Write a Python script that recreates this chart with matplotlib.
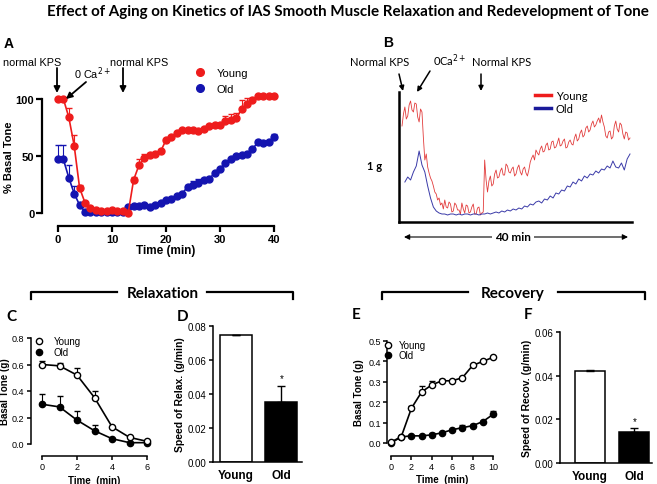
import matplotlib
matplotlib.use('agg')
import matplotlib.pyplot as plt
from matplotlib.lines import Line2D
import numpy as np

plt.rcParams['font.family'] = ['Liberation Sans', 'DejaVu Sans']

W, H = 657, 485
RED = '#ee1c1c'
BLUE = '#1414b0'

# ---- panel A: % basal tone, every minute 0..40
t_a = list(range(41))
young_a = [100, 100, 84, 59, 22, 9, 4, 3, 2, 2, 3, 2, 2, 0, 29, 42, 48, 51, 52, 54, 64,
           67, 70, 73, 73, 73, 72, 74, 76, 77, 77, 81, 82, 83, 91, 96, 99, 103, 103, 103, 103]
young_a_err = [0, 0, 8, 9, 3, 1, 0, 0, 0, 0, 0, 0, 0, 0, 3, 5, 4, 2, 0, 0, 0,
               0, 0, 1, 1, 1, 0, 0, 0, 0, 0, 4, 5, 5, 8, 5, 2, 0, 0, 0, 0]
old_a = [47, 47, 31, 17, 7, 1, 1, 1, 1, 1, 1, 1, 1, 5, 6, 6, 7, 5, 7, 9, 11,
         12, 15, 17, 23, 25, 26, 29, 30, 35, 39, 44, 47, 50, 51, 52, 56, 62, 61, 62, 67]
old_a_err = [13, 13, 11, 7, 2, 0, 0, 0, 0, 0, 0, 0, 0, 0, 0, 0, 0, 0, 0, 0, 0,
             0, 0, 0, 2, 3, 4, 2, 0, 0, 0, 0, 0, 0, 0, 0, 0, 2, 0, 0, 2]

# ---- panel B: raw tension traces (arbitrary units)
# young sampled every 0.25 min, one row per minute
t_b_young = np.arange(0, 40.1, 0.25)
trace_young = [96, 108, 115, 103, 106, 117, 121, 112, 110, 119, 118, 105,
               100, 113, 110, 84, 62, 68, 55, 49, 44, 41, 36, 30,
               28, 22, 24, 17, 19, 13, 22, 15, 14, 20, 18, 10,
               11, 19, 17, 12, 12, 8, 19, 13, 9, 17, 16, 9,
               10, 15, 18, 8, 8, 14, 15, 7, 9, 10, 62, 42,
               30, 41, 46, 36, 38, 48, 52, 44, 45, 51, 54, 47,
               47, 58, 56, 50, 49, 53, 55, 46, 48, 54, 57, 50,
               47, 53, 55, 49, 46, 52, 60, 64, 67, 62, 72, 69,
               67, 73, 76, 70, 71, 77, 79, 72, 73, 80, 81, 74,
               75, 79, 84, 76, 77, 81, 83, 74, 75, 80, 82, 78,
               77, 84, 88, 81, 83, 89, 92, 85, 87, 94, 96, 90,
               92, 98, 101, 95, 97, 101, 104, 99, 107, 100, 95, 86,
               84, 90, 91, 83, 85, 96, 101, 93, 90, 99, 97, 88,
               83, 90, 89, 82, 84]
# old sampled every 0.5 min from 0.5 min
t_b_old = np.arange(0.5, 40.25, 0.5)
trace_old = [40, 45, 42, 50, 56, 71, 57, 50, 36, 24, 15, 11, 9, 8,
             8, 7, 8, 8, 7, 8, 7, 8, 8, 7, 8, 8, 7, 8,
             8, 9, 8, 9, 10, 9, 11, 10, 12, 11, 13, 12, 14, 13, 16, 15, 18, 17, 20, 21,
             19, 23, 22, 26, 24, 29, 28, 32, 31, 36, 35, 40, 38, 43, 41, 46, 44, 48, 47,
             51, 49, 53, 52, 56, 54, 61, 55, 54, 59, 52, 63, 68]

# ---- panel C: relaxation
t_c = [0, 1, 2, 3, 4, 5, 6]
young_c = [0.60, 0.59, 0.52, 0.35, 0.13, 0.05, 0.02]
young_c_err = [0.03, 0.02, 0.05, 0.05, 0.0, 0.0, 0.0]
old_c = [0.30, 0.28, 0.18, 0.10, 0.04, 0.01, 0.01]
old_c_err = [0.08, 0.08, 0.07, 0.045, 0.0, 0.0, 0.0]

# ---- panel D / F: speed bars
groups = ['Young', 'Old']
relax_speed = [0.0745, 0.0355]
relax_err = [0.0004, 0.0095]
recov_speed = [0.042, 0.0142]
recov_err = [0.0006, 0.0018]

# ---- panel E: recovery
t_e = list(range(11))
young_e = [0.005, 0.03, 0.17, 0.25, 0.285, 0.305, 0.305, 0.32, 0.38, 0.40, 0.42]
young_e_err = [0, 0, 0.01, 0.03, 0.02, 0.01, 0, 0, 0, 0, 0]
old_e = [0.0, 0.03, 0.035, 0.035, 0.04, 0.05, 0.065, 0.075, 0.085, 0.105, 0.14]
old_e_err = [0, 0, 0, 0, 0.01, 0, 0, 0.015, 0.01, 0.005, 0.015]

fig = plt.figure(figsize=(W / 100, H / 100), dpi=100)


def px_axes(l, t, r, b):
    return fig.add_axes([l / W, 1 - b / H, (r - l) / W, (b - t) / H])


def prism(ax, loff, boff, lw=1.5, tl=3.5, fs=7, bold=False):
    ax.spines['top'].set_visible(False)
    ax.spines['right'].set_visible(False)
    ax.spines['left'].set_position(('outward', loff * 0.72))
    ax.spines['bottom'].set_position(('outward', boff * 0.72))
    for s in ['left', 'bottom']:
        ax.spines[s].set_linewidth(lw)
    ax.tick_params(direction='out', width=lw, length=tl, labelsize=fs, pad=1.5)
    if bold:
        for lab in ax.get_xticklabels() + ax.get_yticklabels():
            lab.set_fontweight('bold')


def up_err(n):
    return [[0] * len(n), n]


def legend_at(ax, handles, x, y, fs, **kw):
    ax.legend(handles=handles, labels=groups, loc='upper left',
              bbox_to_anchor=(x / W, 1 - y / H), bbox_transform=fig.transFigure,
              frameon=False, fontsize=fs, borderpad=0, borderaxespad=0, **kw)


# ================= A
axA = px_axes(58, 100, 274, 214)
axA.errorbar(t_a, young_a, yerr=up_err(young_a_err), color=RED, marker='o', ms=5,
             lw=1.2, capsize=2.5, elinewidth=0.8, clip_on=False, zorder=3)
axA.errorbar(t_a, old_a, yerr=up_err(old_a_err), color=BLUE, marker='o', ms=5,
             lw=1.2, capsize=2.5, elinewidth=0.8, clip_on=False, zorder=2)
axA.set_xlim(0, 40)
axA.set_ylim(0, 100)
axA.set_xticks([0, 10, 20, 30, 40])
axA.set_yticks([0, 50, 100])
prism(axA, 16, 13, lw=1.6, tl=4, fs=8, bold=True)
axA.set_xlabel('Time (min)', fontsize=8.5, fontweight='bold', labelpad=0)
axA.set_ylabel('% Basal Tone', fontsize=8, fontweight='bold', labelpad=1)
legend_at(axA, [Line2D([], [], color=RED, marker='o', ls='none', ms=5.5),
                Line2D([], [], color=BLUE, marker='o', ls='none', ms=5.5)],
          194, 69, 8, handlelength=1, handletextpad=1.0, labelspacing=0.5)

# ================= B
axB = px_axes(399, 93, 632, 223)
axB.plot(t_b_young, trace_young, color='#e23c3c', lw=0.6)
axB.plot(t_b_old, trace_old, color='#3a3aa8', lw=0.7)
axB.set_xlim(-0.53, 40.35)
axB.set_ylim(0, 130)
axB.spines['top'].set_visible(False)
axB.spines['right'].set_visible(False)
axB.spines['left'].set_linewidth(1.8)
axB.spines['bottom'].set_linewidth(1.8)
axB.set_xticks([])
axB.set_yticks([])
legend_at(axB, [Line2D([], [], color=RED, lw=2.5), Line2D([], [], color='#1a1a9a', lw=2.5)],
          535, 91, 8, handlelength=1.4, handletextpad=0.45, labelspacing=0.15,
          prop={'family': 'Lato', 'size': 8})

# ================= C
axC = px_axes(42, 339, 147, 445)
axC.errorbar(t_c, young_c, yerr=up_err(young_c_err), color='black', marker='o', ms=4.5,
             mfc='white', mew=1, lw=1.2, capsize=2.5, elinewidth=0.8, clip_on=False, zorder=3)
axC.errorbar(t_c, old_c, yerr=up_err(old_c_err), color='black', marker='o', ms=4.5,
             lw=1.2, capsize=2.5, elinewidth=0.8, clip_on=False, zorder=2)
axC.set_xlim(0, 6)
axC.set_ylim(0, 0.8)
axC.set_xticks([0, 2, 4, 6])
axC.set_yticks([0.0, 0.2, 0.4, 0.6, 0.8])
axC.set_yticklabels(['0.0', '0.2', '0.4', '0.6', '0.8'])
prism(axC, 11.5, 12, lw=1.1, tl=3, fs=6.5)
axC.set_xlabel('Time  (min)', fontsize=7, fontweight='bold', labelpad=3)
axC.set_ylabel('Basal Tone (g)', fontsize=7, fontweight='bold', labelpad=1)
legend_at(axC, [Line2D([], [], color='black', marker='o', mfc='white', ls='none', ms=4.5),
                Line2D([], [], color='black', marker='o', ls='none', ms=4.5)],
          34, 337, 7, handlelength=1, handletextpad=1.0, labelspacing=0.15)

# ================= D
axD = px_axes(213, 327, 302, 463)
axD.bar([0, 1], relax_speed, width=0.7, color=['white', 'black'], edgecolor='black', lw=1.1)
axD.errorbar([0, 1], relax_speed, yerr=up_err(relax_err), fmt='none', ecolor='black',
             capsize=3, elinewidth=1, capthick=1)
axD.text(1, relax_speed[1] + relax_err[1] + 0.0015, '*', ha='center', va='bottom', fontsize=7)
axD.set_xlim(-0.5, 1.45)
axD.set_ylim(0, 0.08)
axD.set_yticks([0, 0.02, 0.04, 0.06, 0.08])
axD.set_yticklabels(['0.00', '0.02', '0.04', '0.06', '0.08'])
axD.set_xticks([0, 1])
prism(axD, 0, 0, lw=1.1, tl=3, fs=7)
axD.tick_params(axis='x', length=0, pad=5)
axD.set_xticklabels(groups, fontweight='bold', fontsize=8.5)
axD.set_ylabel('Speed of Relax. (g/min)', fontsize=7.5, fontweight='bold', labelpad=2)

# ================= E
axE = px_axes(391, 342, 493, 444)
axE.errorbar(t_e, young_e, yerr=up_err(young_e_err), color='black', marker='o', ms=4.5,
             mfc='white', mew=1, lw=1.2, capsize=2.5, elinewidth=0.8, clip_on=False, zorder=3)
axE.errorbar(t_e, old_e, yerr=up_err(old_e_err), color='black', marker='o', ms=4.5,
             lw=1.2, capsize=2.5, elinewidth=0.8, clip_on=False, zorder=2)
axE.set_xlim(0, 10)
axE.set_ylim(0, 0.5)
axE.set_xticks([0, 2, 4, 6, 8, 10])
axE.set_yticks([0.0, 0.1, 0.2, 0.3, 0.4, 0.5])
axE.set_yticklabels(['0.0', '0.1', '0.2', '0.3', '0.4', '0.5'])
prism(axE, 4, 12.5, lw=1.1, tl=3, fs=6.5)
axE.set_xlabel('Time  (min)', fontsize=7, fontweight='bold', labelpad=2)
axE.set_ylabel('Basal Tone (g)', fontsize=7, fontweight='bold', labelpad=3)
legend_at(axE, [Line2D([], [], color='black', marker='o', mfc='white', ls='none', ms=4.5),
                Line2D([], [], color='black', marker='o', ls='none', ms=4.5)],
          383, 341, 7, handlelength=1, handletextpad=0.6, labelspacing=0.05)

# ================= F
axF = px_axes(560, 333, 652, 464)
axF.bar([0, 1], recov_speed, width=0.68, color=['white', 'black'], edgecolor='black', lw=1.1)
axF.errorbar([0, 1], recov_speed, yerr=up_err(recov_err), fmt='none', ecolor='black',
             capsize=3, elinewidth=1, capthick=1)
axF.text(1, recov_speed[1] + recov_err[1] + 0.0008, '*', ha='center', va='bottom', fontsize=7)
axF.set_xlim(-0.68, 1.4)
axF.set_ylim(0, 0.06)
axF.set_yticks([0, 0.02, 0.04, 0.06])
axF.set_yticklabels(['0.00', '0.02', '0.04', '0.06'])
axF.set_xticks([0, 1])
prism(axF, 0, 0, lw=1.1, tl=3, fs=7)
axF.tick_params(axis='x', length=0, pad=5)
axF.set_xticklabels(groups, fontweight='bold', fontsize=8.5)
axF.set_ylabel('Speed of Recov. (g/min)', fontsize=7.5, fontweight='bold', labelpad=2)

# ================= overlay for titles, arrows, brackets (pixel coords)
ov = fig.add_axes([0, 0, 1, 1], zorder=10)
ov.set_xlim(0, W)
ov.set_ylim(H, 0)
ov.axis('off')
ov.patch.set_alpha(0)

ov.text(348, 12, 'Effect of Aging on Kinetics of IAS Smooth Muscle Relaxation and Redevelopment of Tone',
        ha='center', va='center', fontsize=10.9, fontweight='bold', family='Lato')


def arrow(x1, y1, x2, y2, lw=1.3, ms=9):
    ov.annotate('', xy=(x2, y2), xytext=(x1, y1),
                arrowprops=dict(arrowstyle='-|>', color='black', lw=lw,
                                mutation_scale=ms, shrinkA=0, shrinkB=0))


for lab, x, y in [('A', 4, 44), ('B', 383, 43)]:
    ov.text(x, y, lab, ha='left', va='center', fontsize=10, fontweight='bold')
for lab, x, y in [('C', 6, 317), ('D', 177, 317), ('E', 352, 315), ('F', 524, 315)]:
    ov.text(x, y, lab, ha='left', va='center', fontsize=11, fontweight='bold', family='Lato')

# A annotations
ov.text(3, 63, 'normal KPS', ha='left', va='center', fontsize=7.8)
ov.text(74, 74, '0 Ca$^{2+}$', ha='left', va='center', fontsize=7.8)
ov.text(110, 63, 'normal KPS', ha='left', va='center', fontsize=7.8)
arrow(57, 69, 57, 94)
arrow(86, 83, 66, 100)
arrow(123, 69, 123, 94)

# B annotations
ov.text(350, 62, 'Normal KPS', ha='left', va='center', fontsize=8, family='Lato')
ov.text(433, 61, '0Ca$^{2+}$', ha='left', va='center', fontsize=8, family='Lato')
ov.text(472, 62, 'Normal KPS', ha='left', va='center', fontsize=8, family='Lato')
arrow(399, 75, 403, 92, lw=1.1, ms=7)
arrow(430, 72, 417, 93, lw=1.1, ms=7)
arrow(481, 75, 481, 92, lw=1.1, ms=7)
ov.text(367, 167, '1 g', ha='left', va='center', fontsize=8, fontweight='bold', family='Lato')
ov.annotate('', xy=(404, 238), xytext=(628, 238),
            arrowprops=dict(arrowstyle='<|-|>', color='black', lw=0.8,
                            mutation_scale=8, shrinkA=0, shrinkB=0))
ov.text(513, 238, '40 min', ha='center', va='center', fontsize=8.5, fontweight='bold',
        family='Lato', bbox=dict(facecolor='white', edgecolor='none', pad=2))

# brackets
for x1, x2, x3, x4, lab, xc in [(31, 117, 207, 293, 'Relaxation', 163),
                                 (382, 468, 558, 645, 'Recovery', 513)]:
    ov.plot([x1, x1, x2], [300, 293, 293], color='black', lw=1.6)
    ov.plot([x3, x4, x4], [293, 293, 300], color='black', lw=1.6)
    ov.text(xc, 294, lab, ha='center', va='center', fontsize=11, fontweight='bold', family='Lato')

fig.savefig('out.png', dpi=100)
